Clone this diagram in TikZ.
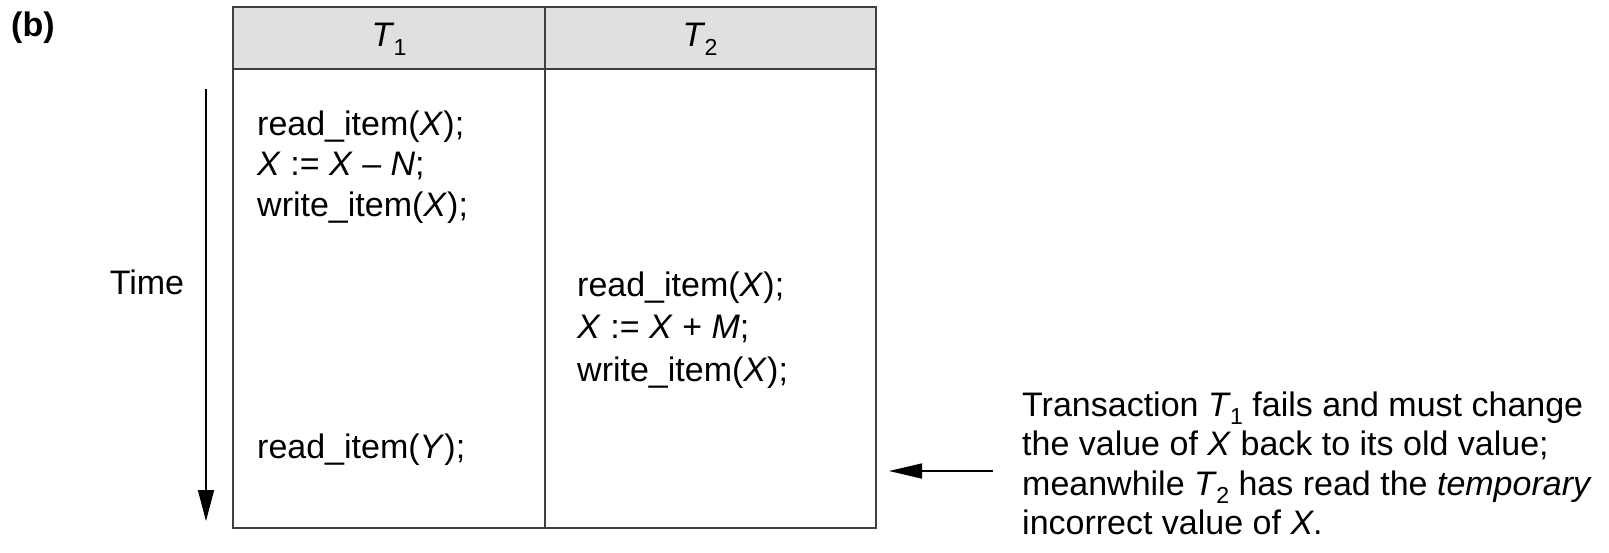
\documentclass[tikz,border=0pt]{standalone}
\usepackage{fontspec}
\setmainfont{Liberation Sans}
\usetikzlibrary{arrows.meta}
\definecolor{hdrgray}{HTML}{E0E0E0}
\definecolor{linegray}{HTML}{404040}
\newcommand\Tsb[1]{\textit{T}\kern-0.02em\raisebox{-0.5ex}{\scalebox{0.68}{#1}}}
\tikzset{
  txt/.style={anchor=base west, inner sep=0pt, font=\fontsize{34}{40}\selectfont},
  hdr/.style={anchor=center, inner sep=0pt, font=\fontsize{34}{40}\selectfont},
  frame/.style={draw=linegray, line width=2pt},
  arr/.style={line width=1.6pt, -{Triangle[length=31pt,width=16pt]}}
}
\begin{document}
\begin{tikzpicture}[x=1pt,y=-1pt]
\useasboundingbox (0,0) rectangle (1609,552);
% table
\fill[hdrgray] (233,7) rectangle (876,69);
\draw[frame] (233,7) rectangle (876,528);
\draw[frame] (233,69) -- (876,69);
\draw[frame] (545,7) -- (545,528);
\node[hdr] (h1) at (389,39) {\Tsb{1}};
\node[hdr] (h2) at (700,39) {\Tsb{2}};
\node[anchor=base west, inner sep=0pt, font=\fontsize{34}{40}\selectfont\bfseries] (lab) at (11,36) {(b)};
% T1 column
\node[txt] (a1) at (257,135) {read\_item(\textit{X});};
\node[txt] (a2) at (257,175) {\textit{X} := \textit{X} – \textit{N};};
\node[txt] (a3) at (257,216) {write\_item(\textit{X});};
\node[txt] (a4) at (257,458) {read\_item(\textit{Y});};
% T2 column
\node[txt] (b1) at (577,296) {read\_item(\textit{X});};
\node[txt] (b2) at (577,338) {\textit{X} := \textit{X} + \textit{M};};
\node[txt] (b3) at (577,381) {write\_item(\textit{X});};
% time
\coordinate (ts) at (206,89);
\coordinate (te) at (206,521);
\draw[arr] (ts) -- (te);
\node[anchor=base, inner sep=0pt, font=\fontsize{34}{40}\selectfont] (time) at (147,294) {Time};
% note
\node[txt] (n1) at (1022,416) {Transaction \Tsb{1} fails and must change};
\node[txt] (n2) at (1022,455) {the value of \textit{X} back to its old value;};
\node[txt] (n3) at (1022,495) {meanwhile \Tsb{2} has read the \textit{temporary}};
\node[txt] (n4) at (1022,534) {incorrect value of \textit{X}.};
\coordinate (as) at (993,471);
\coordinate (ae) at (889,471);
\draw[arr,-{Triangle[length=33pt,width=15pt]}] (as) -- (ae);
\end{tikzpicture}
\end{document}
